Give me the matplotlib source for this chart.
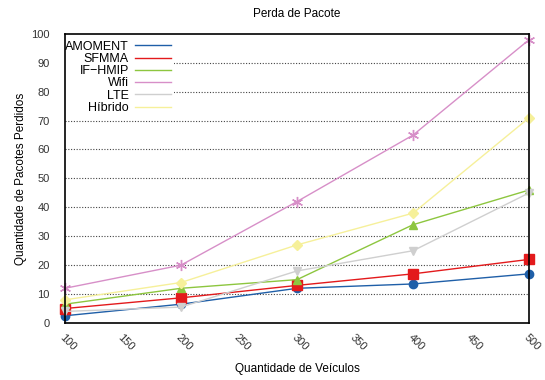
import matplotlib.pyplot as plt

plt.rcParams['font.family'] = ['Liberation Sans', 'DejaVu Sans']

veiculos = [100, 200, 300, 400, 500]
amoment = [2.5, 6.5, 12, 13.5, 17]
sfmma = [5, 8.7, 13, 17, 22]
if_hmip = [6.5, 12, 15, 34, 46]
wifi = [12, 20, 42, 65, 98]
lte = [4, 5.5, 18, 25, 45]
hibrido = [8, 14, 27, 38, 71]

series = [
    ("AMOMENT", amoment, "#1f5fa8", "o", 6),
    ("SFMMA", sfmma, "#e31a1c", "s", 7),
    ("IF\u2212HMIP", if_hmip, "#8dc63f", "^", 6),
    ("Wifi", wifi, "#d78fc8", (6, 2, 0), 8),
    ("LTE", lte, "#cfcfcf", "v", 6),
    ("H\u00edbrido", hibrido, "#f6f09a", "D", 5),
]

fig = plt.figure(figsize=(5.45, 3.8), dpi=100)
ax = fig.add_axes([0.119, 0.15, 0.852, 0.761])

for nome, vals, cor, mk, ms in series:
    ax.plot(veiculos, vals, color=cor, lw=1, marker=mk, ms=ms,
            markeredgewidth=1, label=nome, clip_on=False)

ax.set_xlim(100, 500)
ax.set_ylim(0, 100)
ax.set_xticks(range(100, 501, 50))
ax.set_yticks(range(0, 101, 10))
ax.tick_params(length=0, labelsize=8, colors='#333333')
ax.tick_params(axis='y', pad=11)
for lbl in ax.get_xticklabels():
    lbl.set_rotation(-45)
    lbl.set_ha('left')
    lbl.set_va('top')
    lbl.set_rotation_mode('anchor')
ax.tick_params(axis='x', pad=7)

for y in range(10, 100, 10):
    ax.axhline(y, color='#444444', lw=0.8, ls=(0, (1, 1.5)), zorder=0)

for s in ax.spines.values():
    s.set_linewidth(1.2)
    s.set_zorder(3)

ax.set_title("Perda de Pacote", fontsize=8.5, pad=12)
ax.set_xlabel("Quantidade de Ve\u00edculos", fontsize=8.5, labelpad=7)
ax.set_ylabel("Quantidade de Pacotes Perdidos", fontsize=8.5, labelpad=3)

leg = ax.legend(loc='upper left', bbox_to_anchor=(-0.005, 0.985), markerfirst=False,
                frameon=True, fontsize=9, handlelength=2.9, handletextpad=0.5,
                labelspacing=0.02, borderaxespad=0.0, borderpad=0.2)
leg.set_zorder(2.5)
leg.get_frame().set_edgecolor('none')
leg.get_frame().set_facecolor('white')
leg.get_frame().set_alpha(1)
for h in leg.legend_handles:
    h.set_marker('')
for t in leg.get_texts():
    t.set_ha('right')

fig.savefig("out.png", dpi=100)
